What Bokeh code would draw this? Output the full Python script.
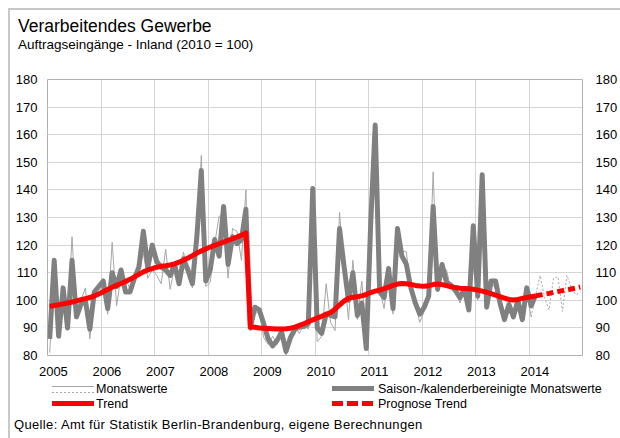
from bokeh.plotting import figure
from bokeh.layouts import column
from bokeh.models import (Range1d, LinearAxis, FixedTicker, Div, CustomJSTickFormatter)
from bokeh.embed import file_html
from bokeh.resources import INLINE

FONT = "Liberation Sans"

# ---------------- data ----------------
title = "Verarbeitendes Gewerbe"
subtitle = "Auftragseingänge - Inland (2010 = 100)"
source = "Quelle: Amt für Statistik Berlin-Brandenburg, eigene Berechnungen"

years = list(range(2005, 2016))
year_labels = list(range(2005, 2015))
y_ticks = list(range(80, 181, 10))

# Saison-/kalenderbereinigte Monatswerte, Jan 2005 .. Feb 2014
saison = [
    86, 114.5, 87, 104.5, 90, 114.5, 94, 98.5, 100, 89.5, 103, 105,
    107, 97, 110, 105, 111, 103, 103, 108, 112, 125, 112, 120,
    114, 112, 111, 109, 113, 106, 115, 111, 106, 123, 147, 107,
    111, 122, 116, 134, 113, 123, 120.5, 122, 133, 90, 97.5, 96.5,
    91.5, 86, 83.5, 85.5, 88.5, 81.5, 86.5, 89.5, 90.3, 90.5, 91.5, 140.5,
    90, 88, 95, 94.5, 94, 126, 112.5, 100, 110, 94.5, 99, 82.5,
    128, 163.5, 103, 101, 111.5, 97, 126, 116, 113, 104.5, 99, 95,
    97.5, 101.5, 134, 104, 113, 106.5, 105.5, 103.5, 101, 104, 96.5, 127,
    101.5, 145.5, 97.5, 107, 107, 99, 93, 98.5, 94, 100, 93, 104.5,
    98, 102,
]

# Monatswerte, Jan 2005 .. Jan 2014
monat = [
    81, 112, 88, 103, 92, 123, 95, 100, 104.5, 86, 104, 102,
    106, 95, 121, 98, 109, 108, 104, 107, 111, 117, 108, 111,
    109, 106, 118.5, 104, 112, 106, 117.5, 110, 104.5, 120.5, 152.5, 105,
    106.5, 120.5, 130.5, 130.5, 108, 126, 125, 114.5, 140, 89, 95, 96,
    86.5, 84, 87, 84, 88, 80, 86.5, 90.5, 88, 91.5, 89.5, 137.5,
    85, 87, 106, 92, 89, 132, 111, 93, 114.5, 93, 107, 86,
    126, 158, 104, 97, 110, 95, 124, 118, 117.5, 103, 99, 92,
    96, 101, 146.5, 103, 111, 111, 104, 104, 99, 104, 98, 121,
    100, 142, 99, 107, 104, 99, 94, 98, 95, 100, 95, 102,
    94,
]

# Monatswerte (Prognose), Jan 2014 .. Dec 2014
monat_prog = [94, 102, 109, 101, 96.5, 108, 108.5, 96, 109, 104.5, 102, 103]

# Trend, Jan 2005 .. Feb 2014
trend = [
    97.8, 98.1, 98.4, 98.7, 99.0, 99.4, 99.8, 100.2, 100.6, 101.0, 101.6, 102.3,
    103.1, 103.9, 104.7, 105.4, 106.1, 106.8, 107.6, 108.5, 109.4, 110.3, 111.0, 111.5,
    112.0, 112.3, 112.5, 112.8, 113.2, 113.8, 114.5, 115.3, 116.2, 117.1, 117.9, 118.6,
    119.3, 119.9, 120.5, 121.1, 121.7, 122.3, 122.9, 123.6, 124.4, 90.3, 90.2, 90.0,
    89.9, 89.8, 89.7, 89.6, 89.6, 89.7, 89.9, 90.3, 90.9, 91.5, 92.2, 92.9,
    93.6, 94.2, 94.9, 95.6, 96.8, 98.3, 99.7, 100.7, 101.1, 101.3, 101.6, 102.1,
    102.8, 103.3, 103.7, 104.2, 104.8, 105.4, 105.9, 106.1, 106.0, 105.7, 105.4, 105.2,
    105.1, 105.3, 105.7, 105.9, 105.7, 105.3, 104.9, 104.6, 104.4, 104.3, 104.2, 104.0,
    103.7, 103.3, 102.9, 102.4, 101.9, 101.3, 100.8, 100.3, 100.1, 100.3, 100.7, 101.0,
    101.3, 101.6,
]

# Prognose Trend, Feb 2014 .. Dec 2014
trend_prog = [101.6, 101.9, 102.2, 102.5, 102.9, 103.2, 103.5, 103.8, 104.1, 104.4, 104.8]

legend_labels = ["Monatswerte", "Saison-/kalenderbereinigte Monatswerte",
                 "Trend", "Prognose Trend"]


def month_x(start_year, start_month, n):
    return [start_year + (start_month - 1 + i + 0.5) / 12.0 for i in range(n)]


x_saison = month_x(2005, 1, len(saison))
x_monat = month_x(2005, 1, len(monat))
x_monat_prog = month_x(2014, 1, len(monat_prog))
x_trend = month_x(2005, 1, len(trend))
x_trend_prog = month_x(2014, 2, len(trend_prog))

W = 610
GRAY_THIN = "#A6A6A6"
GRAY_THICK = "#808080"
RED = "#FF0000"

# ---------------- header (HTML text) ----------------
head = Div(width=W, height=52, margin=0, text=(
    f'<div style="position:relative;width:{W}px;height:52px;font-family:\'{FONT}\';color:#000;">'
    f'<div style="position:absolute;left:8px;top:8.2px;font-size:17.5px;line-height:17.5px;white-space:nowrap;">{title}</div>'
    f'<div style="position:absolute;left:8px;top:27.6px;font-size:13.5px;line-height:13.5px;white-space:nowrap;">{subtitle}</div>'
    '</div>'))

# ---------------- chart ----------------
p = figure(width=W, height=321, output_backend="svg", toolbar_location=None,
           title=None,
           x_range=Range1d(years[0], years[-1]), y_range=Range1d(80, 180),
           min_border_left=37, min_border_right=36, min_border_top=17,
           min_border_bottom=28)
p.background_fill_color = "white"
p.border_fill_color = "white"
p.outline_line_color = "#B0B0B0"
p.outline_line_width = 1

p.xgrid.ticker = FixedTicker(ticks=years)
p.ygrid.ticker = FixedTicker(ticks=y_ticks)
for g in (p.xgrid[0], p.ygrid[0]):
    g.grid_line_color = "#D4D4D4"
    g.grid_line_width = 1

p.xaxis.ticker = FixedTicker(ticks=[y + 0.11 for y in year_labels])
p.xaxis.formatter = CustomJSTickFormatter(code="return Math.floor(tick).toString();")
p.yaxis.ticker = FixedTicker(ticks=y_ticks)
right_axis = LinearAxis(ticker=FixedTicker(ticks=y_ticks))
p.add_layout(right_axis, "right")

for ax, standoff in ((p.xaxis[0], 11), (p.yaxis[0], 10), (right_axis, 13)):
    ax.axis_line_color = None
    ax.major_tick_line_color = None
    ax.minor_tick_line_color = None
    ax.major_tick_in = 0
    ax.major_tick_out = 0
    ax.minor_tick_in = 0
    ax.minor_tick_out = 0
    ax.major_label_standoff = standoff
    ax.major_label_text_font = FONT
    ax.major_label_text_font_size = "13px"
    ax.major_label_text_color = "black"

p.line(x_monat, monat, line_color=GRAY_THIN, line_width=1)
p.line(x_monat_prog, monat_prog, line_color=GRAY_THIN, line_width=1, line_dash="2 2")
p.line(x_saison, saison, line_color=GRAY_THICK, line_width=5, line_join="round")
p.line(x_trend, trend, line_color=RED, line_width=5, line_join="round")
p.line(x_trend_prog, trend_prog, line_color=RED, line_width=5, line_dash="7 4")

# ---------------- footer: legend + source (HTML) ----------------
def swatch(left, top, h, bg):
    return (f'<div style="position:absolute;left:{left}px;top:{top}px;width:42px;'
            f'height:{h}px;background:{bg};"></div>')


def text(left, top, size, s, spacing=0):
    return (f'<div style="position:absolute;left:{left}px;top:{top}px;font-size:{size}px;'
            f'line-height:{size}px;letter-spacing:{spacing}px;white-space:nowrap;">{s}</div>')


foot_html = (
    f'<div style="position:relative;width:{W}px;height:55px;font-family:\'{FONT}\';color:#000;">'
    + swatch(42, 3, 1, GRAY_THIN)
    + swatch(42, 9, 1, f"repeating-linear-gradient(to right,{GRAY_THIN} 0 2px,transparent 2px 4px)")
    + text(86, 0, 12.5, legend_labels[0])
    + swatch(42, 18, 5, RED)
    + text(86, 14.5, 12.5, legend_labels[2])
    + swatch(322, 3, 5, GRAY_THICK)
    + text(368, 0, 12.5, legend_labels[1])
    + swatch(322, 18, 5, f"repeating-linear-gradient(to right,{RED} 0 11px,transparent 11px 15px)")
    + text(368, 14.5, 12.5, legend_labels[3])
    + text(4, 35, 13, source, 0.35)
    + '</div>')
foot = Div(width=W, height=55, margin=0, text=foot_html)

layout = column(head, p, foot, spacing=0,
                styles={"margin-left": "8px", "margin-top": "8px"},
                stylesheets=[":host { border-left: 2px solid #C8C8C8 !important;"
                             " border-top: 2px solid #C8C8C8 !important; }"])

open("out.html", "w").write(file_html(layout, INLINE))
